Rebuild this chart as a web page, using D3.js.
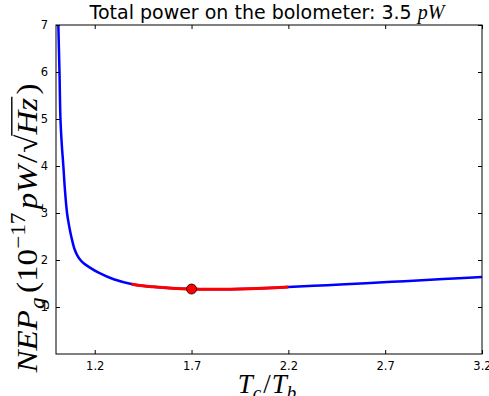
<!DOCTYPE html>
<html>
<head>
<meta charset="utf-8">
<script src="https://cdn.jsdelivr.net/npm/d3@7"></script>
<style>
  body { margin: 0; background: #fff; }
  svg { display: block; }
</style>
</head>
<body>
<svg id="chart" width="489" height="396"></svg>
<script>
// ratio Tc/Tb and NEP values
const ratio = [1.006, 1.012, 1.018, 1.023, 1.030, 1.038, 1.046, 1.057, 1.068, 1.080, 1.095, 1.110, 1.126, 1.146, 1.169, 1.22, 1.298, 1.40,
  1.50, 1.60, 1.70, 1.80, 1.90, 2.00, 2.10, 2.20, 2.40, 2.60, 2.80, 3.00, 3.20];
const nep = [8.2, 7.0, 6.0, 5.0, 4.45, 4.0, 3.5, 3.0, 2.72, 2.48, 2.24, 2.1, 2.0, 1.92, 1.855, 1.73, 1.59, 1.48,
  1.43, 1.398, 1.382, 1.377, 1.38, 1.39, 1.405, 1.425, 1.465, 1.505, 1.55, 1.595, 1.64];
// part of the curve drawn in red
const redRange = [1.39, 2.2];
const optimum = { ratio: 1.7, nep: 1.382 };
const xTicks = [1.2, 1.7, 2.2, 2.7, 3.2];
const yTicks = [1, 2, 3, 4, 5, 6, 7];

const svg = d3.select('#chart');
const margin = { top: 25, right: 7, bottom: 42, left: 56 };
const width = 489 - margin.left - margin.right;
const height = 396 - margin.top - margin.bottom;

const x = d3.scaleLinear().domain([1.0, 3.2]).range([0, width]);
const y = d3.scaleLinear().domain([0, 7]).range([height, 0]);

svg.append('defs').append('clipPath').attr('id', 'clip')
  .append('rect').attr('width', width).attr('height', height);

const g = svg.append('g').attr('transform', `translate(${margin.left},${margin.top})`);

const data = ratio.map((r, i) => ({ r: r, v: nep[i] }));
const line = d3.line()
  .x(d => x(d.r))
  .y(d => y(d.v))
  .curve(d3.curveCatmullRom.alpha(0.5));

const plot = g.append('g').attr('clip-path', 'url(#clip)');
plot.append('path')
  .datum(data)
  .attr('d', line)
  .attr('fill', 'none')
  .attr('stroke', '#0000ff')
  .attr('stroke-width', 2.5);

// red piece: same curve, clipped to the range
svg.select('defs').append('clipPath').attr('id', 'clipRed')
  .append('rect')
  .attr('x', x(redRange[0])).attr('width', x(redRange[1]) - x(redRange[0]))
  .attr('y', 0).attr('height', height);
plot.append('g').attr('clip-path', 'url(#clipRed)')
  .append('path')
  .datum(data)
  .attr('d', line)
  .attr('fill', 'none')
  .attr('stroke', '#ff0000')
  .attr('stroke-width', 3);

plot.append('circle')
  .attr('cx', x(optimum.ratio))
  .attr('cy', y(optimum.nep))
  .attr('r', 5)
  .attr('fill', '#ff0000')
  .attr('stroke', '#000')
  .attr('stroke-width', 0.8);

// axes, ticks pointing inwards on all four sides
const tickStyle = sel => {
  sel.select('.domain').remove();
  sel.selectAll('text').attr('font-family', 'DejaVu Sans').attr('font-size', 11.5).attr('fill', '#000');
  sel.selectAll('line').attr('stroke', '#000');
};
g.append('g').attr('transform', `translate(0,${height})`)
  .call(d3.axisBottom(x).tickValues(xTicks).tickSizeInner(-4).tickPadding(8).tickFormat(d3.format('.1f')))
  .call(tickStyle);
g.append('g')
  .call(d3.axisTop(x).tickValues(xTicks).tickSizeInner(-4).tickFormat(''))
  .call(tickStyle);
g.append('g')
  .call(d3.axisLeft(y).tickValues(yTicks).tickSizeInner(-4).tickPadding(8).tickFormat(d3.format('d')))
  .call(tickStyle);
g.append('g').attr('transform', `translate(${width},0)`)
  .call(d3.axisRight(y).tickValues(yTicks).tickSizeInner(-4).tickFormat(''))
  .call(tickStyle);

g.append('rect')
  .attr('width', width).attr('height', height)
  .attr('fill', 'none').attr('stroke', '#000').attr('stroke-width', 1);

// title
const title = svg.append('text')
  .attr('x', margin.left + width / 2 - 2).attr('y', 19)
  .attr('text-anchor', 'middle')
  .attr('font-family', 'DejaVu Sans').attr('font-size', 19);
title.append('tspan').text('Total power on the bolometer: 3.5 ');
title.append('tspan').attr('font-family', 'Liberation Serif').attr('font-style', 'italic').attr('font-size', 20).text('pW');

// lays pieces of math text next to each other, returns total width
function mathRow(parent, pieces) {
  let cx = 0;
  pieces.forEach(p => {
    const t = parent.append('text')
      .attr('x', cx).attr('y', p.dy || 0)
      .attr('font-family', 'Liberation Serif')
      .attr('font-style', p.upright ? 'normal' : 'italic')
      .attr('font-size', p.size)
      .attr('fill', '#000')
      .text(p.t);
    const w = t.node().getComputedTextLength();
    if (p.over) {
      parent.append('line')
        .attr('x1', cx - 1).attr('x2', cx + w + 1)
        .attr('y1', -p.size * 0.84).attr('y2', -p.size * 0.84)
        .attr('stroke', '#000').attr('stroke-width', 1.4);
    }
    cx += w + (p.gap || 0);
  });
  return cx;
}

// y label, stretched to the length it has in the reference
const yl = svg.append('g');
const ylRow = yl.append('g');
const ylW = mathRow(ylRow, [
  { t: 'NEP', size: 30, gap: 1 },
  { t: 'g', size: 21, dy: 7, gap: 4 },
  { t: '(10', size: 30, upright: true },
  { t: '\u221217', size: 21, dy: -12, upright: true, gap: 3 },
  { t: 'pW', size: 30, gap: 2 },
  { t: '/', size: 30, upright: true, gap: 1 },
  { t: '\u221a', size: 30, upright: true },
  { t: 'Hz', size: 30, over: true, gap: 3 },
  { t: ')', size: 30, upright: true }
]);
const ylFit = Math.max(1, 289 / ylW);
ylRow.attr('transform', `scale(${ylFit},1) translate(${-ylW / 2},0)`);
yl.attr('transform', `translate(37,228) rotate(-90)`);

// x label
const xl = svg.append('g');
const xlRow = xl.append('g');
const xlW = mathRow(xlRow, [
  { t: 'T', size: 27 },
  { t: 'c', size: 19, dy: 6, gap: 2 },
  { t: '/', size: 27, upright: true, gap: 1 },
  { t: 'T', size: 27 },
  { t: 'b', size: 19, dy: 6 }
]);
xlRow.attr('transform', `translate(${-xlW / 2},0)`);
xl.attr('transform', `translate(${margin.left + width / 2 - 2},393)`);
</script>
</body>
</html>
